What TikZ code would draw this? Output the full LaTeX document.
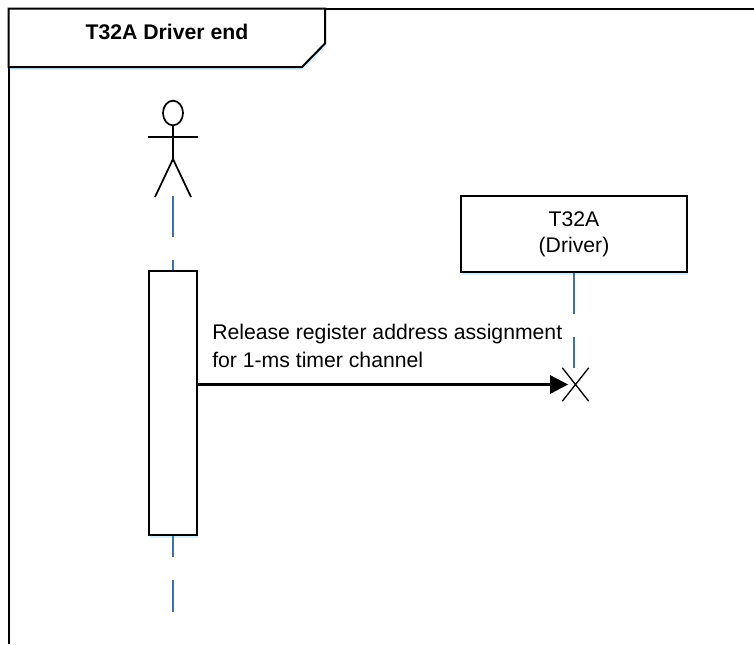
\documentclass[tikz,border=0pt]{standalone}
\usepackage{fontspec}
\setmainfont{Liberation Sans}
\usetikzlibrary{arrows.meta,shapes.geometric,shapes.misc,shadows}

\tikzset{
  softshadow/.style={drop shadow={shadow xshift=0.6pt,shadow yshift=-2.2pt,fill=blue!40!cyan,opacity=0.16}},
  lifebox/.style={draw=black,line width=1.5pt,fill=white,inner sep=0pt,softshadow},
  lifeline/.style={line width=2pt,color=lineblue,dash pattern=on 30.75pt off 17.25pt},
  stickline/.style={line width=1.3pt,black},
  labeltext/.style={font=\fontsize{15.9}{21}\selectfont,inner sep=0pt}
}
\definecolor{lineblue}{RGB}{65,113,165}

\begin{document}
\begin{tikzpicture}[x=0.75pt,y=-0.75pt]
  \useasboundingbox (0,0) rectangle (754,644);

  % Outer frame, open towards the page edges
  \draw[line width=1.5pt] (754,8.5) -- (8.5,8.5) -- (8.5,644);

  % Title tab
  \draw[line width=1.5pt,fill=white,softshadow] (8.5,8.5) -- (325,8.5) -- (325,43.5) -- (302,67) -- (8.5,67) -- cycle;
  \node[labeltext,font=\fontsize{15.9}{21}\selectfont\bfseries] (title) at (167,32) {T32A Driver end};

  % Lifeline ends
  \coordinate (actorfoot) at (173,196);
  \coordinate (actorend) at (173,612);

  % Lifelines
  \draw[lifeline] (actorfoot) -- (actorend);

  % Stick figure
  \node[draw,ellipse,stickline,minimum width=15pt,minimum height=18.5pt,inner sep=0pt] (head) at (173,113) {};
  \coordinate (hip) at (173,159);
  \coordinate (armleft) at (148,137);
  \coordinate (armright) at (198,137);
  \coordinate (legleft) at (155,197);
  \coordinate (legright) at (191,197);
  \draw[stickline] (head) -- (hip);
  \draw[stickline] (armleft) -- (armright);
  \draw[stickline] (legleft) -- (hip) -- (legright);

  % Activation bar and driver box
  \node[lifebox,minimum width=36pt,minimum height=198pt] (activation) at (173,403) {};
  \node[lifebox,labeltext,draw,line width=1.5pt,inner sep=0pt,align=center,minimum width=169.5pt,minimum height=57pt,font=\fontsize{15.9}{19.5}\selectfont] (driver) at (574,234) {T32A\\(Driver)};

  % Destruction mark
  \node[cross out,draw,line width=1pt,minimum width=18.75pt,minimum height=24pt,inner sep=0pt] (destroy) at (575.5,384.5) {};
  \draw[lifeline] (driver.south) -- (destroy.north -| driver.south);

  % Message
  \draw[-{Triangle[length=13.5pt,width=13.5pt]},line width=2pt,shorten >=5.5pt] (activation.east |- destroy.center) -- (destroy.center);
  \node[labeltext,anchor=north west,align=left] (message) at (212,323.5) {Release register address assignment\\for 1-ms timer channel};
\end{tikzpicture}
\end{document}
